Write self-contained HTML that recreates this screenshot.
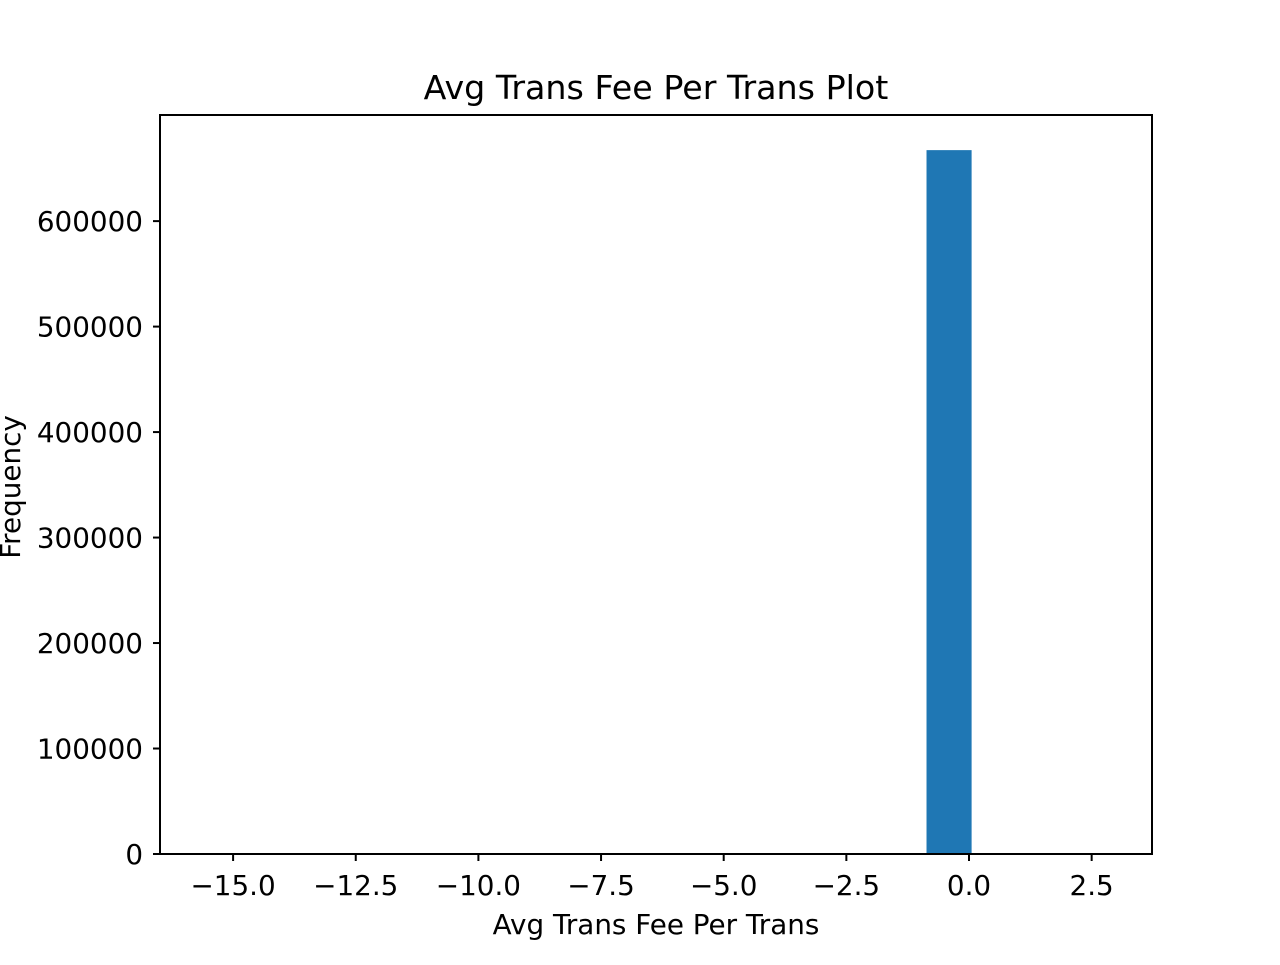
<!DOCTYPE html>
<html><head><meta charset="utf-8"><style>
body{margin:0;background:#fff}
svg text{font-family:"DejaVu Sans","Liberation Sans",sans-serif;fill:#000}
</style></head><body>
<svg id="chart" width="1280" height="960" xmlns="http://www.w3.org/2000/svg">
<rect width="1280" height="960" fill="#fff"/>
<text x="656" y="99" font-size="33.3" text-anchor="middle">Avg Trans Fee Per Trans Plot</text>
<g id="bars"></g>
<g id="xticks"></g>
<g id="yticks"></g>
<rect x="160" y="115" width="992" height="739" fill="none" stroke="#000" stroke-width="2"/>
<text x="656" y="934" font-size="27.8" text-anchor="middle">Avg Trans Fee Per Trans</text>
<text transform="translate(20,487) rotate(-90)" font-size="27.8" text-anchor="middle">Frequency</text>
</svg>
<script>
const binStart = -15.57;
const binWidth = 0.919;
const counts = [0,0,0,0,0,0,0,0,0,0,0,0,0,0,0,0,667300,0,0,0];
const xTickValues = [-15,-12.5,-10,-7.5,-5,-2.5,0,2.5];
const yTickValues = [0,100000,200000,300000,400000,500000,600000];
const NS="http://www.w3.org/2000/svg";
const X0=160,X1=1152,Y0=854,Y1=115;
const xmin=-16.49,xmax=3.73,ymin=0,ymax=700600;
const xs=v=>X0+(v-xmin)/(xmax-xmin)*(X1-X0);
const ys=v=>Y0-(v-ymin)/(ymax-ymin)*(Y0-Y1);
const fmtX=v=>(v<0?"\u2212":"")+Math.abs(v).toFixed(1);
const bars=document.getElementById('bars');
counts.forEach((c,i)=>{
  if(c<=0)return;
  const r=document.createElementNS(NS,'rect');
  const a=xs(binStart+i*binWidth),b=xs(binStart+(i+1)*binWidth);
  r.setAttribute('x',a);r.setAttribute('width',b-a);
  r.setAttribute('y',ys(c));r.setAttribute('height',ys(0)-ys(c));
  r.setAttribute('fill','#1f77b4');
  
  
  bars.appendChild(r);
});
const xt=document.getElementById('xticks');
xTickValues.forEach(v=>{
  const x=xs(v);
  const l=document.createElementNS(NS,'line');
  l.setAttribute('x1',x);l.setAttribute('x2',x);l.setAttribute('y1',854);l.setAttribute('y2',861);
  l.setAttribute('stroke','#000');l.setAttribute('stroke-width','2');
  
  
  xt.appendChild(l);
  const t=document.createElementNS(NS,'text');
  t.setAttribute('x',x);t.setAttribute('y',895);t.setAttribute('font-size','27.8');t.setAttribute('text-anchor','middle');
  t.textContent=fmtX(v);
  
  
  xt.appendChild(t);
});
const yt=document.getElementById('yticks');
yTickValues.forEach(v=>{
  const y=ys(v);
  const l=document.createElementNS(NS,'line');
  l.setAttribute('x1',153);l.setAttribute('x2',160);l.setAttribute('y1',y);l.setAttribute('y2',y);
  l.setAttribute('stroke','#000');l.setAttribute('stroke-width','2');
  
  
  yt.appendChild(l);
  const t=document.createElementNS(NS,'text');
  t.setAttribute('x',143);t.setAttribute('y',y+10);t.setAttribute('font-size','27.8');t.setAttribute('text-anchor','end');
  t.textContent=String(v);
  
  
  yt.appendChild(t);
});
</script>
</body></html>
